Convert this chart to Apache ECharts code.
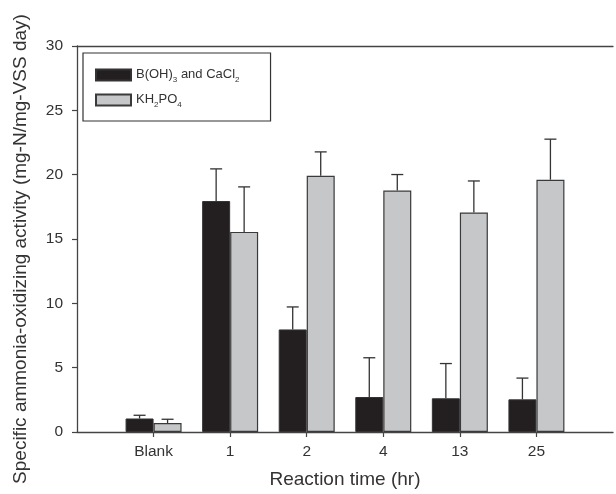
<!DOCTYPE html>
<html>

<head>
    <meta charset="utf-8">
    <title>ECharts</title>
    <script src="https://cdn.jsdelivr.net/npm/echarts@6/dist/echarts.min.js"></script>
</head>

<body style="margin:0">
    <div id="main" style="width:616px;height:494px;"></div>
    <script type="text/javascript">
        var myChart = echarts.init(document.getElementById('main'));

        // empty slots at both ends so that Blank..25 sit one band in from the edges
        var categories = ['', 'Blank', '1', '2', '4', '13', '25', ''];
        var boronMean = [null, 1.05, 17.95, 7.97, 2.72, 2.62, 2.54, null];
        var boronErr = [null, 0.25, 2.5, 1.75, 3.05, 2.7, 1.65, null];
        var phosMean = [null, 0.69, 15.55, 19.92, 18.76, 17.06, 19.61, null];
        var phosErr = [null, 0.3, 3.5, 1.85, 1.25, 2.45, 3.15, null];
        var yTicks = [0, 5, 10, 15, 20, 25, 30];

        var BAR_W = 28;
        var textColor = '#333';
        var lineColor = '#444';

        function errData(mean, err) {
            var out = [];
            for (var i = 0; i < mean.length; i++) {
                if (mean[i] == null) continue;
                out.push([i, mean[i], mean[i] + err[i]]);
            }
            return out;
        }

        // upward-only error bar with a short cap
        function errRenderer(shift) {
            return function (params, api) {
                var lo = api.coord([api.value(0), api.value(1)]);
                var hi = api.coord([api.value(0), api.value(2)]);
                var x = lo[0] + shift;
                var style = { stroke: '#333', lineWidth: 1.3 };
                return {
                    type: 'group',
                    children: [
                        { type: 'line', shape: { x1: x, y1: lo[1], x2: x, y2: hi[1] }, style: style },
                        { type: 'line', shape: { x1: x - 6, y1: hi[1], x2: x + 6, y2: hi[1] }, style: style }
                    ]
                };
            };
        }

        option = {
            animation: false,
            textStyle: { fontFamily: 'Liberation Sans, Arial, sans-serif' },
            grid: { left: 77, top: 46, right: 0, bottom: 59 },
            legend: {
                orient: 'vertical',
                left: 83,
                top: 53,
                padding: [15, 31, 12, 12],
                icon: 'rect',
                itemWidth: 35,
                itemHeight: 11,
                itemGap: 9,
                borderColor: '#333',
                borderWidth: 1.2,
                data: ['boron', 'phos'],
                formatter: function (name) {
                    if (name === 'boron') return '{t|B(OH)}{s|3}{t| and CaCl}{s|2}';
                    return '{t|KH}{s|2}{t|PO}{s|4}';
                },
                textStyle: {
                    color: textColor,
                    rich: {
                        t: { fontSize: 13, color: textColor, lineHeight: 12, verticalAlign: 'bottom' },
                        s: { fontSize: 8, color: textColor, lineHeight: 12, verticalAlign: 'bottom', padding: [0, 0, -3, 0] }
                    }
                }
            },
            xAxis: [{
                type: 'category',
                data: categories,
                boundaryGap: false,
                name: 'Reaction time (hr)',
                nameLocation: 'middle',
                nameGap: 38,
                nameTextStyle: { fontSize: 19, color: textColor },
                axisLine: { lineStyle: { color: lineColor, width: 1.3 } },
                axisTick: {
                    length: 5,
                    lineStyle: { color: lineColor, width: 1.2 },
                    interval: function (idx, val) { return val !== ''; }
                },
                axisLabel: { fontSize: 15.5, color: textColor, margin: 12, interval: 0 }
            }, {
                type: 'category',
                data: categories,
                boundaryGap: false,
                position: 'top',
                axisLine: { lineStyle: { color: lineColor, width: 1.3 } },
                axisTick: { show: false },
                axisLabel: { show: false }
            }],
            yAxis: {
                type: 'value',
                min: yTicks[0],
                max: yTicks[yTicks.length - 1],
                interval: 5,
                name: 'Specific ammonia-oxidizing activity (mg-N/mg-VSS day)',
                nameLocation: 'middle',
                nameGap: 47,
                nameTextStyle: { fontSize: 19, color: textColor, padding: [0, 20, 0, 0] },
                axisLine: { show: true, lineStyle: { color: lineColor, width: 1.3 } },
                axisTick: { show: true, inside: false, length: 5, lineStyle: { color: lineColor, width: 1.2 } },
                axisLabel: { fontSize: 15.5, color: textColor, margin: 14 },
                splitLine: { show: false }
            },
            series: [{
                name: 'boron',
                type: 'bar',
                data: boronMean,
                barWidth: BAR_W,
                barGap: '0%',
                itemStyle: { color: '#231f20', borderColor: '#333', borderWidth: 1 }
            }, {
                name: 'phos',
                type: 'bar',
                data: phosMean,
                barWidth: BAR_W,
                barGap: '0%',
                itemStyle: { color: '#c6c7c9', borderColor: '#3a3a3a', borderWidth: 1.2 }
            }, {
                type: 'custom',
                renderItem: errRenderer(-BAR_W / 2),
                data: errData(boronMean, boronErr),
                encode: { x: 0, y: [1, 2] },
                z: 1
            }, {
                type: 'custom',
                renderItem: errRenderer(BAR_W / 2),
                data: errData(phosMean, phosErr),
                encode: { x: 0, y: [1, 2] },
                z: 1
            }]
        };
        myChart.setOption(option);
    </script>
</body>

</html>
